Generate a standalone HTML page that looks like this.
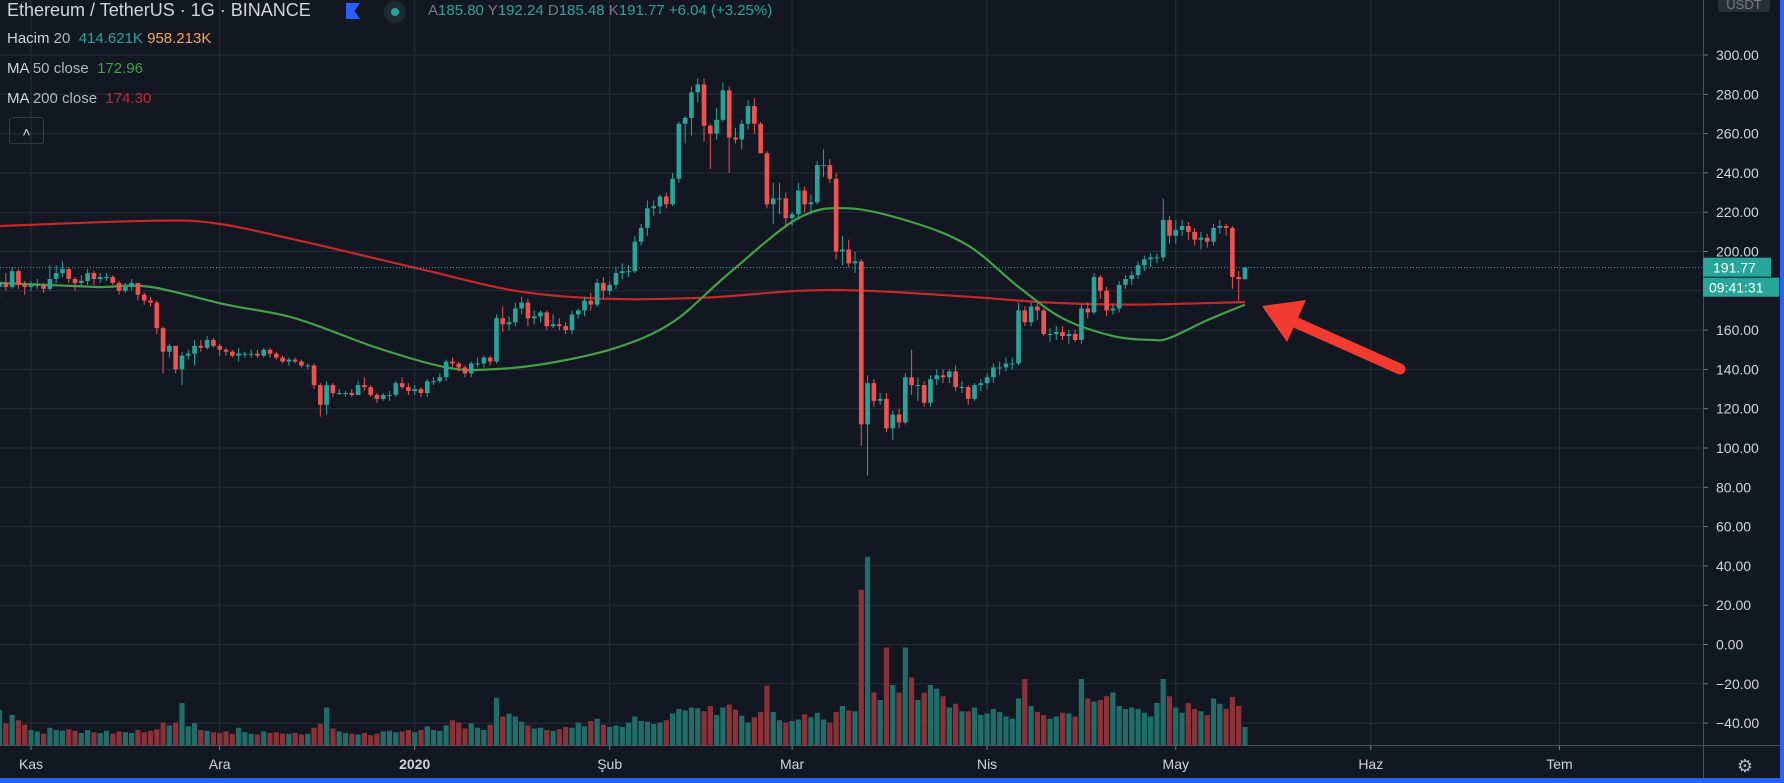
<!DOCTYPE html>
<html><head><meta charset="utf-8"><style>
html,body{margin:0;padding:0;background:#131722;width:1784px;height:783px;overflow:hidden;font-family:"Liberation Sans",sans-serif}
svg{position:absolute;left:0;top:0}
.hdr{position:absolute;left:7px;white-space:nowrap;color:#d1d4dc}
</style></head><body>
<svg id="chart" width="1784" height="783"></svg>
<div class="hdr" style="top:0px;font-size:18px">Ethereum / TetherUS · 1G · BINANCE</div>
<div style="position:absolute;left:346px;top:3px;width:14px;height:16px;background:#2962ff;clip-path:polygon(0 0,100% 0,60% 50%,100% 100%,0 100%)"></div>
<div style="position:absolute;left:384px;top:1px;width:22px;height:22px;border-radius:50%;background:#1c2a32"><div style="position:absolute;left:7px;top:7px;width:8px;height:8px;border-radius:50%;background:#26a69a"></div></div>
<div class="hdr" style="left:428px;top:2px;font-size:15px;color:#26a69a"><span style="color:#787b86">A</span>185.80 <span style="color:#787b86">Y</span>192.24 <span style="color:#787b86">D</span>185.48 <span style="color:#787b86">K</span>191.77 +6.04 (+3.25%)</div>
<div class="hdr" style="top:30px;font-size:15px">Hacim <span style="color:#b2b5be">20</span> &nbsp;<span style="color:#26a69a">414.621K</span> <span style="color:#f7a35c">958.213K</span></div>
<div class="hdr" style="top:60px;font-size:15px">MA <span style="color:#b2b5be">50 close</span> &nbsp;<span style="color:#43a047">172.96</span></div>
<div class="hdr" style="top:90px;font-size:15px">MA <span style="color:#b2b5be">200 close</span> &nbsp;<span style="color:#c62828">174.30</span></div>
<div style="position:absolute;left:9px;top:117px;width:33px;height:25px;border:1px solid #363a45;border-radius:3px;color:#d1d4dc;font-size:14px;text-align:center;line-height:28px">˄</div>
<div style="position:absolute;left:1718px;top:-6px;width:52px;height:18px;background:#2a2e39;border-radius:3px;color:#787b86;font-size:13px;text-align:center;line-height:22px">USDT</div>
<script>
const dayLabels=["Kas","Ara","2020","Şub","Mar","Nis","May","Haz","Tem"];
const dayLabelIdx=[5,35,66,97,126,157,187,218,248];
const priceTicks=[300,280,260,240,220,200,180,160,140,120,100,80,60,40,20,0,-20,-40];
const closes=[184,182,190,183,182,
183,183,181,186,189,191,186,184,185,189,186,187,187,184,180,182,184,178,175,174,161,149,152,140,147,148,152,151,155,152,
150,149,147,148,148,148,147,150,148,146,144,145,144,142,142,132,122,132,128,128,128,127,132,131,127,125,127,127,133,131,129,
130,128,134,134,136,144,143,141,138,143,143,146,144,166,163,164,171,174,166,167,169,162,163,162,160,168,170,175,173,184,180,
183,189,190,190,205,212,222,223,228,224,237,265,268,281,285,264,260,267,282,258,257,265,274,265,250,224,227,227,217,
219,231,224,225,244,244,237,200,201,194,195,112,133,124,125,110,117,113,136,132,132,123,135,137,136,139,131,131,125,132,133,
136,141,141,143,143,170,164,172,170,158,158,159,157,158,155,171,169,187,180,170,171,183,186,188,193,196,197,197,216,208,
211,213,210,206,207,205,212,213,212,187,186,191.77];
const highs=[197,189,192,191,185,
185,186,184,193,193,195,192,187,188,191,190,189,189,188,185,184,186,184,179,177,175,162,153,152,149,150,155,155,157,156,
153,151,150,151,149,150,150,151,151,149,147,146,146,145,143,143,133,134,133,130,129,130,134,136,132,128,128,129,134,136,133,
132,131,135,136,138,145,146,144,142,144,146,147,147,168,172,167,174,177,176,170,170,170,168,166,164,170,171,177,179,186,187,
185,192,194,193,208,214,226,226,229,230,240,266,269,284,288,288,265,273,286,284,263,267,277,278,266,251,235,235,230,
220,235,233,229,246,252,247,240,208,206,200,196,137,135,128,128,119,120,138,150,136,134,137,140,140,140,142,134,132,133,135,
138,143,144,146,146,174,172,174,174,171,161,162,162,160,160,173,174,189,188,182,173,185,188,190,195,198,199,199,227,218,
216,216,215,212,210,209,214,216,214,213,190,192.24];
const lows=[176,180,181,181,178,
180,181,179,180,184,187,184,180,183,183,183,184,185,183,178,179,180,175,173,172,158,138,146,138,132,145,142,149,150,151,
147,147,146,144,146,146,146,146,146,145,143,142,143,141,140,130,116,117,126,127,126,126,127,129,126,123,124,124,126,130,127,
127,126,126,132,133,134,141,139,136,136,141,141,142,143,159,160,162,168,162,163,164,160,161,160,158,158,166,167,170,172,176,
178,181,186,187,189,203,208,218,219,222,223,235,255,259,276,256,242,257,266,240,255,252,262,260,250,222,214,219,212,
213,216,220,219,224,238,235,196,193,192,189,101,86,121,122,108,104,110,112,127,124,121,121,132,133,133,129,128,122,124,129,
130,133,137,139,140,142,162,162,165,157,154,155,155,153,154,153,166,168,176,167,168,169,181,183,186,190,192,194,195,204,
204,208,206,203,201,202,203,209,208,181,175,185.48];
const volumes=[470,290,400,330,270,
200,180,150,230,200,190,210,190,160,200,170,160,190,150,180,170,160,200,170,190,210,300,260,300,560,250,290,200,190,170,
160,180,150,230,170,150,140,180,160,170,150,150,160,140,150,230,280,500,220,180,160,150,140,160,130,150,180,190,170,180,200,
170,200,250,200,190,260,330,300,220,290,230,200,270,630,380,420,380,310,260,220,230,200,190,210,240,230,300,250,320,350,270,
240,260,240,300,380,320,310,280,300,330,420,480,460,500,490,450,520,400,500,540,470,390,300,370,440,790,440,330,300,
320,340,410,370,430,340,300,440,520,460,450,2070,2510,700,600,1300,800,700,1300,900,600,700,800,750,650,500,550,450,450,500,400,
420,480,440,380,350,620,880,520,440,400,350,380,430,420,380,880,620,580,600,650,700,520,480,500,480,430,380,560,880,650,
500,430,560,480,450,400,620,550,480,640,520,240];
const firstOpen=182;
const ma50Idx=[0,15,17,24,36,47,60,71,78,87,98,107,116,127,135,145,154,162,169,177,183,186,192,198];
const ma50Val=[184,182,182,182,173,166,151,141,140,143,151,164,189,217,222,215,203,182,166,157,155,156,165,172.96];
const ma200Idx=[0,24,34,47,67,82,96,112,127,138,154,167,181,198];
const ma200Val=[213,215.6,214.5,206,191,180,176,176.5,180,180,177,174,173,174.3];
const lastPrice=191.77;

const NS="http://www.w3.org/2000/svg";
const svg=document.getElementById('chart');
const PANE_R=1703, BOTTOM=745;
function X(i){return 31+(i-5)*6.29;}
function Y(v){return 55+(300-v)*1.965;}
function VH(v){return v*0.075;}
function mk(tag,attrs,parent){const e=document.createElementNS(NS,tag);for(const k in attrs)e.setAttribute(k,attrs[k]);(parent||svg).appendChild(e);return e;}

priceTicks.forEach(function(t){
  const g=mk('line',{x1:0,x2:PANE_R,y1:Y(t),y2:Y(t),stroke:'#2a2e39','stroke-width':1});
  
  
  const tk=mk('line',{x1:PANE_R,x2:PANE_R+5,y1:Y(t),y2:Y(t),stroke:'#787b86'});
  
  
  const tx=mk('text',{x:PANE_R+13,y:Y(t)+5,fill:'#d1d4dc','font-size':14,'font-family':'Liberation Sans, sans-serif'});
  tx.textContent=t.toFixed(2).replace('-','−');
  
  
});
dayLabelIdx.forEach(function(d,k){
  const x=X(d);
  const g=mk('line',{x1:x,x2:x,y1:0,y2:BOTTOM,stroke:'#2a2e39','stroke-width':1});
  
  
  const tk=mk('line',{x1:x,x2:x,y1:BOTTOM,y2:BOTTOM+5,stroke:'#787b86'});
  
  
  const tx=mk('text',{x:x,y:BOTTOM+24,fill:'#d1d4dc','font-size':14,'text-anchor':'middle','font-family':'Liberation Sans, sans-serif','font-weight':dayLabels[k]==='2020'?'bold':'normal'});
  tx.textContent=dayLabels[k];
  
  
});
volumes.forEach(function(v,i){
  const o=i===0?firstOpen:closes[i-1];
  const up=closes[i]>=o;
  const h=VH(v);
  const b=mk('rect',{x:X(i)-2.6,y:BOTTOM-h,width:5.2,height:h,fill:up?'#1f6e69':'#8a3238'});
  
  
});
function maPath(idx,val){
  const p=idx.map(function(d,k){return [X(d),Y(val[k])];});
  let s='M'+p[0][0].toFixed(1)+','+p[0][1].toFixed(1);
  for(let k=0;k<p.length-1;k++){
    const p0=p[Math.max(0,k-1)],p1=p[k],p2=p[k+1],p3=p[Math.min(p.length-1,k+2)];
    const c1x=p1[0]+(p2[0]-p0[0])/6,c1y=p1[1]+(p2[1]-p0[1])/6;
    const c2x=p2[0]-(p3[0]-p1[0])/6,c2y=p2[1]-(p3[1]-p1[1])/6;
    s+=' C'+c1x.toFixed(1)+','+c1y.toFixed(1)+' '+c2x.toFixed(1)+','+c2y.toFixed(1)+' '+p2[0].toFixed(1)+','+p2[1].toFixed(1);
  }
  return s;
}
const m200=mk('path',{d:maPath(ma200Idx,ma200Val),stroke:'#c62828','stroke-width':2.2,fill:'none','stroke-linejoin':'round'});


const m50=mk('path',{d:maPath(ma50Idx,ma50Val),stroke:'#43a047','stroke-width':2.2,fill:'none','stroke-linejoin':'round'});


const lp=mk('line',{x1:0,x2:PANE_R,y1:Y(lastPrice),y2:Y(lastPrice),stroke:'#26a69a','stroke-width':1,'stroke-dasharray':'1,2'});


closes.forEach(function(c,i){
  const o=i===0?firstOpen:closes[i-1];
  const up=c>=o, col=up?'#26a69a':'#ef5350', x=X(i);
  const w=mk('line',{x1:x,x2:x,y1:Y(highs[i]),y2:Y(lows[i]),stroke:col,'stroke-width':1});
  
  
  const top=Y(Math.max(o,c)), bh=Math.max(1,Y(Math.min(o,c))-top);
  const b=mk('rect',{x:x-2.3,y:top,width:4.6,height:bh,fill:col});
  
  
});
const ax=mk('line',{x1:PANE_R+0.5,x2:PANE_R+0.5,y1:0,y2:778,stroke:'#4a4e5a'});


const bx=mk('line',{x1:0,x2:1784,y1:BOTTOM+0.5,y2:BOTTOM+0.5,stroke:'#4a4e5a'});


const ly=Y(lastPrice);
const pl=mk('rect',{x:PANE_R,y:ly-10,width:68,height:19,fill:'#26a69a'});


const plt=mk('text',{x:PANE_R+10,y:ly+5,fill:'#ffffff','font-size':14,'font-family':'Liberation Sans, sans-serif'});
plt.textContent='191.77';


const cl=mk('rect',{x:PANE_R,y:ly+10,width:76,height:19,fill:'#26a69a'});


const clt=mk('text',{x:PANE_R+6,y:ly+25,fill:'#ffffff','font-size':14,'font-family':'Liberation Sans, sans-serif'});
clt.textContent='09:41:31';


const ar=mk('line',{x1:1400,y1:369,x2:1290,y2:320,stroke:'#f23b30','stroke-width':11,'stroke-linecap':'round'});


const ah=mk('polygon',{points:'1262,306 1306,300 1287,342',fill:'#f23b30'});


const gear=mk('text',{x:1745,y:772,fill:'#b2b5be','font-size':18,'text-anchor':'middle'});
gear.textContent='⚙';


const bb=mk('rect',{x:0,y:778,width:1784,height:5,fill:'#2962ff'});


const rb=mk('rect',{x:1780,y:0,width:4,height:783,fill:'#2962ff'});


</script>
</body></html>
